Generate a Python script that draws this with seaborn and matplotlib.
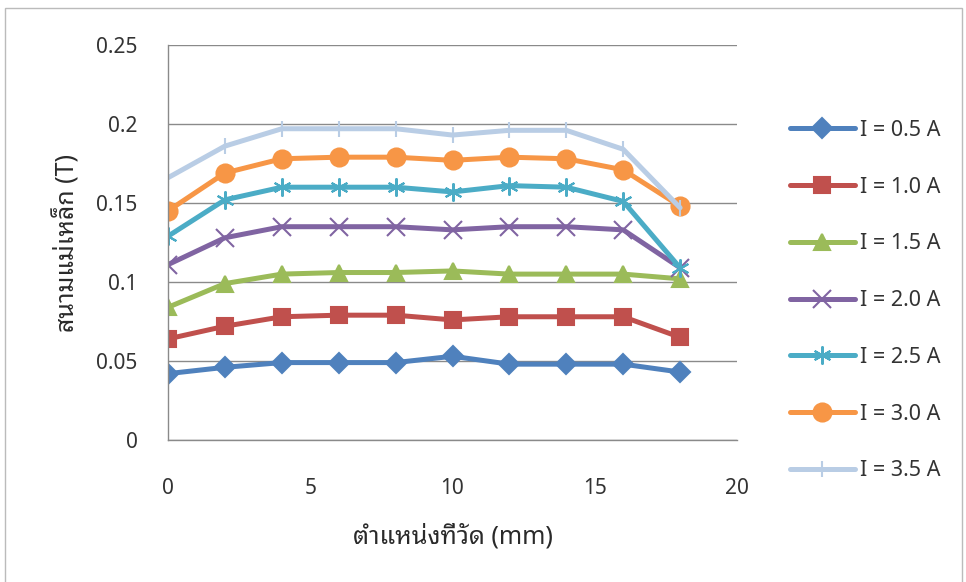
import numpy as np
import pandas as pd
import matplotlib
matplotlib.use("Agg")
import matplotlib.pyplot as plt
import seaborn as sns

# ---- data ----
positions = [0, 2, 4, 6, 8, 10, 12, 14, 16, 18]
series_labels = ["I = 0.5 A", "I = 1.0 A", "I = 1.5 A", "I = 2.0 A",
                 "I = 2.5 A", "I = 3.0 A", "I = 3.5 A"]
b_05 = [0.042, 0.046, 0.049, 0.049, 0.049, 0.053, 0.048, 0.048, 0.048, 0.043]
b_10 = [0.064, 0.072, 0.078, 0.079, 0.079, 0.076, 0.078, 0.078, 0.078, 0.065]
b_15 = [0.084, 0.099, 0.105, 0.106, 0.106, 0.107, 0.105, 0.105, 0.105, 0.102]
b_20 = [0.111, 0.128, 0.135, 0.135, 0.135, 0.133, 0.135, 0.135, 0.133, 0.109]
b_25 = [0.129, 0.152, 0.160, 0.160, 0.160, 0.157, 0.161, 0.160, 0.151, 0.109]
b_30 = [0.145, 0.169, 0.178, 0.179, 0.179, 0.177, 0.179, 0.178, 0.171, 0.148]
b_35 = [0.166, 0.186, 0.197, 0.197, 0.197, 0.193, 0.196, 0.196, 0.184, 0.147]
x_ticks = [0, 5, 10, 15, 20]
y_ticks = [0, 0.05, 0.1, 0.15, 0.2, 0.25]
y_tick_labels = ["0", "0.05", "0.1", "0.15", "0.2", "0.25"]
x_label = "ตำแหน่งที่วัด (mm)"
y_label = "สนามแม่เหล็ก (T)"

colors = ["#4F81BD", "#C0504D", "#9BBB59", "#8064A2", "#4BACC6", "#F79646", "#B9CDE5"]
markers = ["D", "s", "^", "x", (6, 2, 0), "o", "|"]
msizes = [10, 12, 12, 13, 13, 13, 12]

rows = []
for lab, vals in zip(series_labels, [b_05, b_10, b_15, b_20, b_25, b_30, b_35]):
    for p, v in zip(positions, vals):
        rows.append({"pos": p, "B": v, "series": lab})
df = pd.DataFrame(rows)

sns.set_theme(style="white")
plt.rcParams["font.family"] = ["Noto Sans Thai Looped", "Noto Sans Thai", "DejaVu Sans"]

fig = plt.figure(figsize=(9.66, 5.82), dpi=100)
ax = fig.add_axes([168 / 966, 1 - 440 / 582, (737 - 168) / 966, (440 - 45) / 582])

for i, lab in enumerate(series_labels):
    sub = df[df["series"] == lab]
    sns.lineplot(data=sub, x="pos", y="B", ax=ax, color=colors[i], lw=3.6,
                 marker=markers[i], markersize=msizes[i],
                 markeredgecolor=colors[i], markerfacecolor=colors[i],
                 markeredgewidth=1.5, label=lab, sort=False, legend=False)

ax.set_xlim(0, 20)
ax.set_ylim(0, 0.25)
ax.set_xticks(x_ticks)
ax.set_yticks(y_ticks)
ax.set_yticklabels(y_tick_labels)
ax.grid(axis="y", color="#8a8a8a", lw=1.0)
ax.grid(axis="x", visible=False)
for s in ["top", "right"]:
    ax.spines[s].set_visible(False)
for s in ["left", "bottom"]:
    ax.spines[s].set_color("#8a8a8a")
    ax.spines[s].set_linewidth(1.0)
ax.tick_params(axis="both", which="major", direction="out", length=9, width=1.0,
               color="#8a8a8a", labelsize=15, labelcolor="#333333")
ax.tick_params(axis="y", pad=13)
ax.tick_params(axis="x", pad=18)
for t in ax.get_xticklabels() + ax.get_yticklabels():
    t.set_fontweight("light")
ax.set_xlabel(x_label, fontsize=18, color="#2a2a2a", labelpad=18)
ax.set_ylabel(y_label, fontsize=18, color="#2a2a2a", labelpad=11, fontweight="medium")

handles, labels = ax.get_legend_handles_labels()
leg = fig.legend(handles, labels, loc="upper left", bbox_to_anchor=(790 / 966, 1 - 120 / 582),
                 bbox_transform=fig.transFigure, frameon=False,
                 fontsize=15.5, handlelength=3.0, handletextpad=0.25,
                 labelspacing=1.66, borderaxespad=0, borderpad=0)
for t in leg.get_texts():
    t.set_color("#333333")
    t.set_fontweight("light")

fig.patches.append(plt.Rectangle((5 / 966, -0.1), 957 / 966, 1.1 - 8 / 582,
                                 transform=fig.transFigure,
                                 fill=False, edgecolor="#bbbbbb", lw=1.0))
fig.savefig("out.png", dpi=100)
